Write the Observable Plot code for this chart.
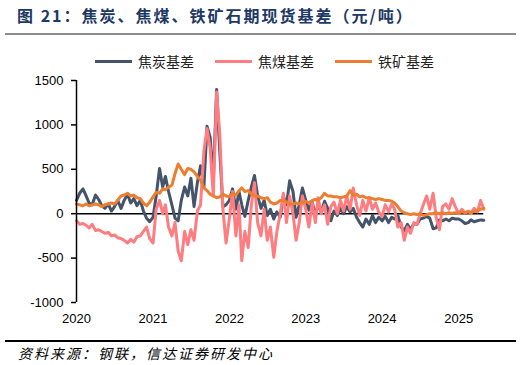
<!DOCTYPE html>
<html>
<head>
<meta charset="utf-8">
<script src="https://cdn.jsdelivr.net/npm/d3@7"></script>
<script src="https://cdn.jsdelivr.net/npm/@observablehq/plot@0.6"></script>
<style>
  html, body { margin: 0; padding: 0; background: #fff; }
  #root { position: relative; width: 521px; height: 365px; overflow: hidden; font-family: "Liberation Sans", Arial, "Noto Sans CJK SC", sans-serif; }
  #title { position: absolute; left: 17px; top: 3px; font-family: "Noto Sans CJK SC", sans-serif; font-weight: bold; font-size: 16px; letter-spacing: 2px; color: #203864; white-space: nowrap; }
  #titleLine { position: absolute; left: 5px; top: 33px; width: 511px; height: 2px; background: #8c8c8c; }
  #legend { position: absolute; left: 95px; top: 51px; display: flex; align-items: center; font-family: "Noto Sans CJK SC", sans-serif; font-size: 14px; color: #222; white-space: nowrap; }
  .item { display: flex; align-items: center; margin-right: 21px; }
  .sw { width: 37px; height: 3px; margin-right: 6px; }
  #chart { position: absolute; left: 0; top: 40px; }
  #footLine { position: absolute; left: 5px; top: 340px; width: 511px; height: 1.5px; background: #000; }
  #foot { position: absolute; left: 18px; top: 343px; font-family: "Noto Sans CJK SC", sans-serif; font-style: italic; font-size: 14px; letter-spacing: 2px; color: #000; white-space: nowrap; }
</style>
</head>
<body>
<div id="root">
  <div id="title">图 21：焦炭、焦煤、铁矿石期现货基差（元/吨）</div>
  <div id="titleLine"></div>
  <div id="legend"></div>
  <div id="chart"></div>
  <div id="footLine"></div>
  <div id="foot">资料来源：钢联，信达证券研发中心</div>
</div>
<script>
// semi-monthly observations, 2020-01-01 .. 2025-05-01
const seriesNames = ["焦炭基差", "焦煤基差", "铁矿基差"];
const seriesColors = ["#44546a", "#ff7c80", "#ed7d31"];
const yTicks = [-1000, -500, 0, 500, 1000, 1500];
const xTickYears = [2020, 2021, 2022, 2023, 2024, 2025];

const cokeBasis = [
  150, 230, 280, 200, 120, 100, 210, 160, 90, 60, 110, 30,
  80, 150, 60, 150, 220, 120, 170, 90, 150, 30, -50, -90,
  -40, 200, 510, 300, 420, 250, 100, -50, -80, 150, 300, 200,
  400, 80, 350, 540, 300, 985, 860, 380, 1400, 700, 80, 100,
  150, 280, 50, 250, 100, -30, 150, 300, 430, 200, 60, 150,
  -20, 50, -60, 20, -40, 200, 100, 370, 250, -40, 100, 290,
  150, 40, 130, -20, 100, 20, 140, 60, -80, 30, -20, 60,
  0, 80, 20, 60, -40, -100, -150, -60, -120, -20, -100, -40,
  -80, -30, -100, -40, -60, -20, -150, -190, -120, -180, -110, -120,
  -60, -50, -30, -50, -170, -160, -70, -80, -60, -80, -50, -60,
  -60, -80, -110, -100, -70, -90, -80, -70, -75
];
const coalBasis = [
  -80, -120, -110, -130, -160, -120, -190, -180, -200, -220, -210, -250,
  -240, -270, -280, -300, -330, -290, -320, -260, -250, -200, -150, -280,
  -330, 50, 150, 0, 100, -150, -250, -100, -420, -530, -200, -350,
  -180, -300, 30, 100, 700, 960, 740, 200, 1370, 900, 50, -330,
  -50, 250, -250, 100, -530, -200, -380, 100, 350, -100, -250, 50,
  -300, -150, -490, -200, 0, 230, -100, 200, 0, -300, -100, 200,
  50, -150, 120, -100, 180, 0, 100, -120, 80, 130, 0, 150,
  30, 200, 50, 290, 100, -20, 150, 30, 180, 50, 120, 20,
  -30, 100, 20, 110, 50, -150, -100, -300, -150, -220, -100, -120,
  0, 100, 200, 50, 230, -50, -180, 80, 110, 50, 170, 80,
  0, 50, 10, 30, 0, 60, 20, 150, 50
];
const ironBasis = [
  110, 100, 90, 110, 90, 100, 110, 100, 80, 100, 110, 120,
  110, 150, 200, 210, 230, 200, 210, 180, 170, 120, 90, 130,
  190, 240, 230, 280, 270, 300, 320, 450, 560, 500, 440, 510,
  500, 470, 420, 380, 290, 260, 220, 200, 180, 190, 220, 200,
  190, 230, 210, 260, 290, 250, 260, 220, 200, 200, 180, 170,
  180, 130, 110, 120, 150, 150, 130, 110, 110, 120, 110, 130,
  140, 120, 150, 160, 150, 180, 230, 200, 200, 190, 190, 180,
  190, 200, 260, 210, 220, 190, 200, 180, 180, 170, 160, 170,
  160, 150, 150, 140, 120, 80, 30, 10, 0, -10, 0, -10,
  0, -20, -10, 0, 0, 10, 0, 10, 0, 10, 5, 10,
  10, 20, 10, 20, 20, 25, 30, 50, 60
];

const dates = cokeBasis.map((_, i) =>
  new Date(Date.UTC(2020 + Math.floor(i / 24), Math.floor((i % 24) / 2), (i % 2) ? 16 : 1)));
const allSeries = [cokeBasis, coalBasis, ironBasis];
const rows = (k) => allSeries[k].map((v, i) => ({date: dates[i], value: v}));

// legend
const legend = document.getElementById("legend");
seriesNames.forEach((n, k) => {
  const it = document.createElement("div");
  it.className = "item";
  it.innerHTML = `<div class="sw" style="background:${seriesColors[k]}"></div><span>${n}</span>`;
  legend.appendChild(it);
});

const chart = Plot.plot({
  width: 521,
  height: 300,
  marginLeft: 76,
  marginRight: 25,
  marginTop: 40,
  marginBottom: 38,
  style: {fontFamily: "'Liberation Sans', Arial, sans-serif", fontSize: "13px", color: "#000", background: "transparent"},
  x: {type: "utc", domain: [new Date(Date.UTC(2020, 0, 1)), new Date(Date.UTC(2025, 6, 1))]},
  y: {domain: [-1000, 1500]},
  marks: [
    Plot.axisY({ticks: yTicks, tickSize: 5, tickPadding: 8, tickFormat: d => String(d), label: null, stroke: "#000", strokeWidth: 1.5}),
    Plot.axisX({ticks: xTickYears.map(y => new Date(Date.UTC(y, 0, 1))), tickFormat: d3.utcFormat("%Y"), tickSize: 0, tickPadding: 11, label: null}),
    Plot.ruleY([0], {x1: dates[0], x2: dates[dates.length - 1], stroke: "#000", strokeWidth: 1.5}),
    ...[0, 1, 2].map(k => Plot.line(rows(k), {x: "date", y: "value", stroke: seriesColors[k], strokeWidth: 3, strokeLinejoin: "round"})),
    Plot.ruleX([dates[0]], {y1: yTicks[0], y2: yTicks[yTicks.length - 1], stroke: "#000", strokeWidth: 1.5})
  ]
});
document.getElementById("chart").appendChild(chart);
</script>
</body>
</html>
